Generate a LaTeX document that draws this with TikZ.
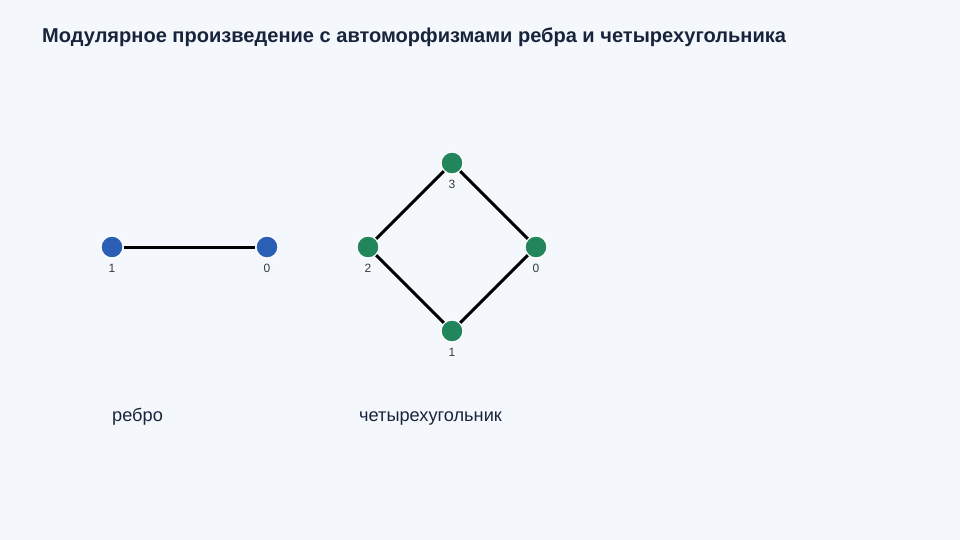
\documentclass[tikz,border=0pt]{standalone}
\usepackage{fontspec}
\setmainfont{Liberation Sans}
\definecolor{bg}{HTML}{F4F8FC}
\definecolor{titlec}{HTML}{17243B}
\definecolor{bluen}{HTML}{2B5FB6}
\definecolor{greenn}{HTML}{23855B}
\definecolor{labc}{HTML}{333B48}
\begin{document}
\begin{tikzpicture}[x=1pt,y=-1pt,
  vtx/.style={circle,draw=white,line width=1.2pt,minimum size=22pt,inner sep=0pt},
  bvtx/.style={vtx,fill=bluen},
  gvtx/.style={vtx,fill=greenn},
  edgeline/.style={line width=3pt,black},
  vlab/.style={font=\fontsize{12}{14}\selectfont,text=labc,inner sep=0pt},
  captext/.style={font=\fontsize{18.2}{21}\selectfont,text=titlec,anchor=base west,inner sep=0pt}]
\fill[bg] (0,0) rectangle (960,540);
\useasboundingbox (0,0) rectangle (960,540);
\node[anchor=base west,inner sep=0pt,text=titlec,font=\fontsize{20.05}{24}\selectfont\bfseries] (title) at (42,43) {Модулярное произведение с автоморфизмами ребра и четырехугольника};
% edge graph
\node[bvtx] (e1) at (112,247) {};
\node[bvtx] (e0) at (267,247) {};
\draw[edgeline] (e1) -- (e0);
\node[vlab] (le1) at (112,268) {1};
\node[vlab] (le0) at (267,268) {0};
% square graph
\node[gvtx] (s3) at (452,163) {};
\node[gvtx] (s2) at (368,247) {};
\node[gvtx] (s0) at (536,247) {};
\node[gvtx] (s1) at (452,331) {};
\draw[edgeline] (s3) -- (s0) (s0) -- (s1) (s1) -- (s2) (s2) -- (s3);
\node[vlab] (ls3) at (452,184) {3};
\node[vlab] (ls2) at (368,268) {2};
\node[vlab] (ls0) at (536,268) {0};
\node[vlab] (ls1) at (452,352) {1};
% captions
\node[captext] (c1) at (112,421) {ребро};
\node[captext] (c2) at (359,421) {четырехугольник};
\end{tikzpicture}
\end{document}
